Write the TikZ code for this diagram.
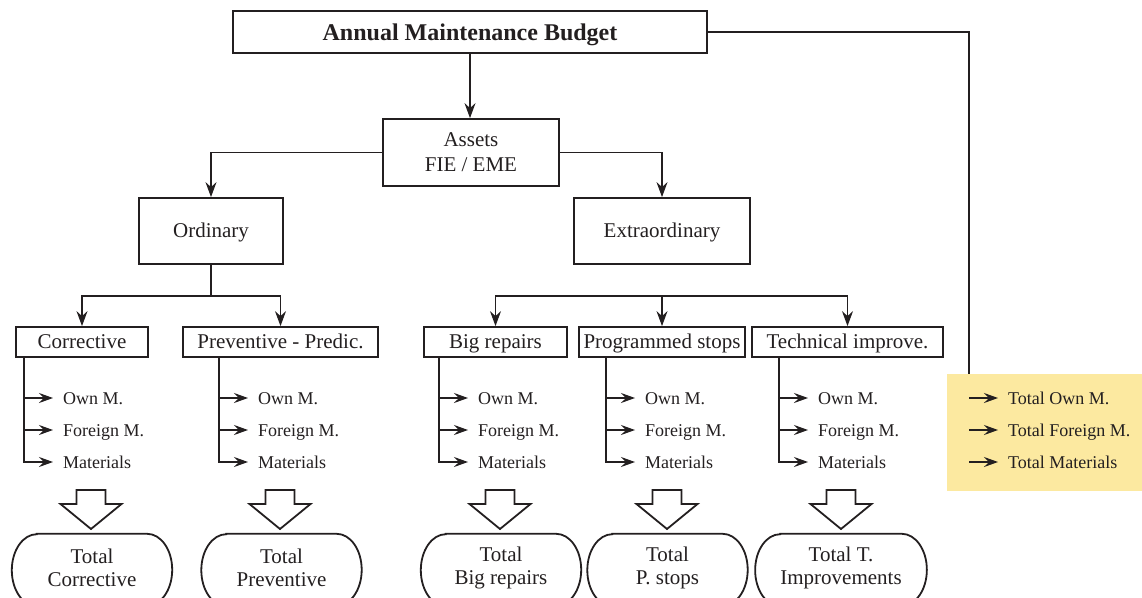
\documentclass[tikz,border=0pt]{standalone}
\usepackage{fontspec}
\setmainfont{Liberation Serif}
\usetikzlibrary{arrows.meta}
\definecolor{ink}{RGB}{35,31,32}
\definecolor{yel}{RGB}{252,233,160}
\begin{document}
\begin{tikzpicture}[x=1pt,y=-1pt,
  every node/.style={text=ink},
  box/.style={draw=ink, line width=1.8pt, minimum height=30pt, inner sep=0pt, align=center, font=\fontsize{21}{25}\selectfont},
  onebox/.style={box, text height=16pt, text depth=3pt},
  conn/.style={draw=ink, line width=1.2pt},
  arr/.style={conn, -{Stealth[length=15pt,width=11pt,inset=5pt]}},
  subarr/.style={conn, -{Stealth[length=14pt,width=10pt,inset=5pt]}, shorten >=10pt},
  item/.style={anchor=west, inner sep=0pt, text height=13pt, text depth=1pt, font=\fontsize{18}{21}\selectfont},
  total/.style={inner sep=0pt, minimum width=110pt, minimum height=72pt, align=center, font=\fontsize{21}{23}\selectfont},
  stadium/.style={draw=ink, line width=1.8pt},
  hollowarrow/.pic={\draw[ink, line width=1.8pt, line join=miter] (-14.5,0) -- (14.5,0) -- (14.5,14) -- (30.5,14) -- (0,39) -- (-30.5,14) -- (-14.5,14) -- cycle;}
]
\useasboundingbox (0,0) rectangle (1142,597);

% yellow summary box
\node[fill=yel, inner sep=0pt, minimum width=195pt, minimum height=117pt] (yel) at (1044.5,432.5) {};

% hierarchy boxes
\node[box, minimum width=474pt, minimum height=42pt, text height=18pt, text depth=2pt, font=\bfseries\fontsize{24}{28}\selectfont] (top) at (470,32) {Annual Maintenance Budget};
\node[box, minimum width=176pt, minimum height=67pt] (assets) at (471,152.5) {Assets\\FIE / EME};
\node[onebox, minimum width=144pt, minimum height=66pt] (ord) at (211,231) {Ordinary};
\node[onebox, minimum width=176pt, minimum height=66pt] (ext) at (662,231) {Extraordinary};

\node[onebox, minimum width=132pt] (corr) at (82,342) {Corrective};
\node[onebox, minimum width=195pt] (prev) at (280.5,342) {Preventive - Predic.};
\node[onebox, minimum width=143pt] (big) at (495.5,342) {Big repairs};
\node[onebox, minimum width=166pt] (prog) at (662,342) {Programmed stops};
\node[onebox, minimum width=191pt] (tech) at (847.5,342) {Technical improve.};

% connectors of the hierarchy
\draw[arr] (top.south) -- (top.south |- assets.north);
\draw[arr] (assets.west) -| (ord.north);
\draw[arr] (assets.east) -| (ext.north);
\draw[conn] (ord.south) -- ++(0,31) coordinate (j1);
\draw[arr] (j1) -| (corr.north);
\draw[arr] (j1) -| (prev.north);
\coordinate (j2) at (prog.north |- j1);
\draw[arr] (j2) -| (big.north);
\draw[arr] (j2) -- (prog.north);
\draw[arr] (j2) -| (tech.north);

% item lists
\foreach \b/\lx in {corr/24, prev/219, big/439, prog/606, tech/779} {
  \node[item] (\b-1) at (\lx+39,398) {Own M.};
  \node[item] (\b-2) at (\lx+39,430) {Foreign M.};
  \node[item] (\b-3) at (\lx+39,462) {Materials};
  \coordinate (\b-s) at (\lx,398);
  \draw[subarr] (\b.south -| \b-s) |- (\b-3.west);
  \draw[subarr] (\b-s) -- (\b-1.west);
  \draw[subarr] (\b-s |- \b-2.west) -- (\b-2.west);
}

% totals
\node[total] (t1) at (92,567.5) {Total\\Corrective};
\node[total] (t2) at (281.5,567.5) {Total\\Preventive};
\node[total] (t3) at (501,567.5) {Total\\Big repairs};
\node[total] (t4) at (667.5,567.5) {Total\\P. stops};
\node[total] (t5) at (841,567.5) {Total T.\\Improvements};
\foreach \t in {t1,t2,t3,t4,t5} {
  \draw[stadium] ([yshift=-2.5pt]\t.north west) -- ([yshift=-2.5pt]\t.north east)
    arc[start angle=90, end angle=-90, x radius=25pt, y radius=36pt]
    -- ([yshift=-2.5pt]\t.south west)
    arc[start angle=270, end angle=90, x radius=25pt, y radius=36pt] -- cycle;
}
\pic at (91,490) {hollowarrow};
\pic at (280,490) {hollowarrow};
\pic at (500,490) {hollowarrow};
\pic at (667,490) {hollowarrow};
\pic at (841,490) {hollowarrow};

% yellow totals
\node[item] (y1) at (1008,398) {Total Own M.};
\node[item] (y2) at (1008,430) {Total Foreign M.};
\node[item] (y3) at (1008,462) {Total Materials};
\coordinate (ys) at (969,398);
\draw[conn] (top.east) -| (ys |- yel.north);
\draw[subarr] (ys) -- (y1.west);
\draw[subarr] (ys |- y2.west) -- (y2.west);
\draw[subarr] (ys |- y3.west) -- (y3.west);
\end{tikzpicture}
\end{document}
